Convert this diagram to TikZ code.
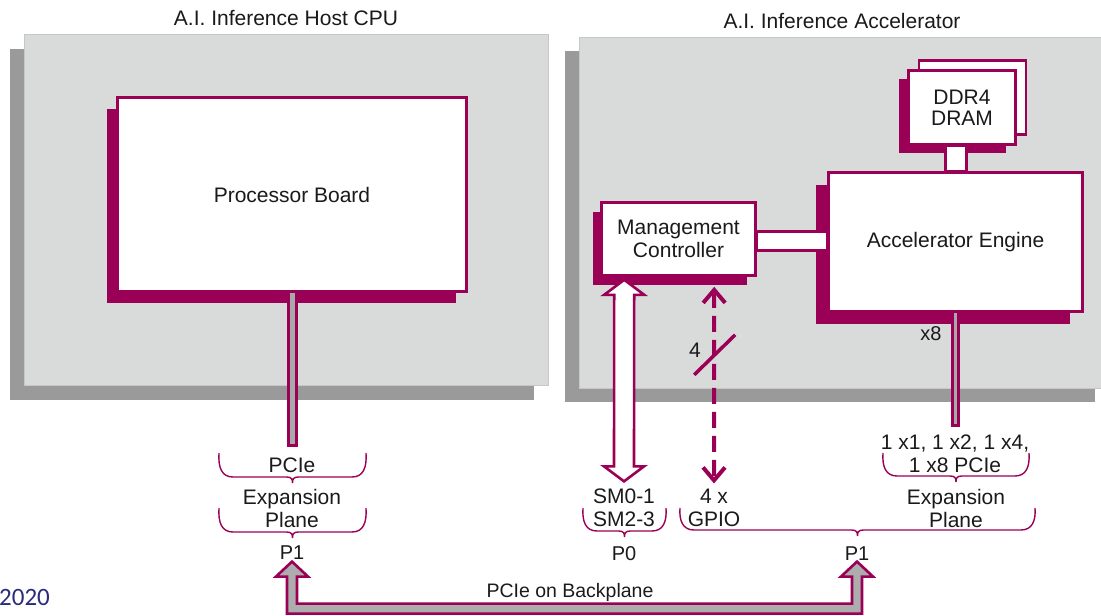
\documentclass[tikz,border=0pt]{standalone}
\usepackage{fontspec}
\setmainfont{Liberation Sans}
\newfontfamily\slidefont{Carlito}
\usetikzlibrary{arrows.meta, shadows, calc}
\definecolor{mMag}{HTML}{9B0057}
\definecolor{mPanel}{HTML}{D9DADA}
\definecolor{mShade}{HTML}{9A9A9A}
\definecolor{mLink}{HTML}{A9A9A9}
\definecolor{mBus}{HTML}{ADADAD}
\definecolor{mInk}{HTML}{1A1A1A}
\definecolor{mNavy}{HTML}{2B2B7B}

% curly brace under a group of labels: left x, right x, top y, bottom y
\newcommand\planebrace[4]{%
  \draw[brc] (#1,#3) .. controls (#1-1,#4-9) and (#1+3,#4) .. (#1+14,#4)
    -- ({(#1+#2)/2-6},#4) .. controls ({(#1+#2)/2-1},#4) and ({(#1+#2)/2},#4+2) .. ({(#1+#2)/2},#4+6)
    .. controls ({(#1+#2)/2},#4+2) and ({(#1+#2)/2+1},#4) .. ({(#1+#2)/2+6},#4)
    -- (#2-14,#4) .. controls (#2-3,#4) and (#2+1,#4-9) .. (#2,#3);}

\begin{document}
\begin{tikzpicture}[x=1pt, y=-1pt, font=\fontsize{21}{23}\selectfont, text=mInk,
  panel/.style={fill=mPanel, draw=mShade!55, line width=0.8pt, inner sep=0pt,
                minimum height=351,
                drop shadow={shadow xshift=-14pt, shadow yshift=-14pt, fill=mShade, opacity=1}},
  card/.style={fill=white, draw=mMag, line width=2.6pt, align=center, inner sep=0pt},
  box/.style 2 args={card,
                drop shadow={shadow xshift=#1, shadow yshift=#2, fill=mMag, opacity=1}},
  lbl/.style={inner sep=0pt, align=center},
  tiny/.style={font=\fontsize{20}{22}\selectfont},
  linkg/.style={fill=mLink, draw=mMag, line width=3pt},
  linkw/.style={fill=white, draw=mMag, line width=2.6pt},
  sigarrow/.style={fill=white, draw=mMag, line width=2.6pt, line join=miter},
  busarrow/.style={fill=mBus, draw=mMag, line width=2.6pt, line join=miter},
  gpioline/.style={draw=mMag, line width=4pt, dash pattern=on 16pt off 8pt,
                   <->, >={Straight Barb[length=13pt, width=22pt]}},
  brc/.style={draw=mMag, line width=1.4pt},
]
  \useasboundingbox (0,0) rectangle (1101,616);

  % cards
  \node[panel, minimum width=524] (host) at (286,210) {};
  \node[panel, minimum width=530] (acc) at (844,212.5) {};
  \node (tHost) at (286,18) {A.I. Inference Host CPU};
  \node (tAcc) at (842,21) {A.I. Inference Accelerator};

  % boards and chips
  \node[box={-11pt}{-11pt}, minimum width=349, minimum height=194] (pb) at (292,194.5) {Processor Board};
  \node[card, minimum width=107, minimum height=74] (ddrb) at (972.5,97.5) {};
  \node[box={-10pt}{-8pt}, minimum width=107, minimum height=74] (ddr) at (962,107.5) {DDR4\\[-2pt]DRAM};
  \node[box={-13pt}{-12pt}, minimum width=254, minimum height=139] (ae) at (955.5,242) {Accelerator Engine};
  \node[box={-9pt}{-9pt}, minimum width=154, minimum height=73] (mc) at (678.5,239) {Management\\Controller};

  % labels
  \node[lbl, tiny] (x8) at (931,334) {x8};
  \node[lbl] (four) at (695,350) {4};
  \node[lbl] (pcieL) at (292,465) {PCIe};
  \node[lbl] (expL) at (292,508.5) {Expansion\\Plane};
  \node[lbl, tiny] (p1L) at (292,553) {P1};
  \node[lbl] (sm) at (624,507.5) {SM0-1\\SM2-3};
  \node[lbl, tiny] (p0) at (624,554) {P0};
  \node[lbl] (gpio) at (714,507.5) {4 x\\GPIO};
  \node[lbl] (pcieR) at (955,454) {1 x1, 1 x2, 1 x4,\\1 x8 PCIe};
  \node[lbl] (expR) at (956,508.5) {Expansion\\Plane};
  \node[lbl, tiny] (p1R) at (857,554) {P1};
  \node[lbl, font=\fontsize{19.5}{22}\selectfont] (bus) at (570,592) {PCIe on Backplane};
  \node[lbl, anchor=west, font=\slidefont\fontsize{25}{28}\selectfont, text=mNavy] (yr) at (-1,597) {2020};

  % board links
  \draw[linkg] ($(pb.south)+(-4,-1)$) rectangle ($(pb.south |- pcieL.north)+(4,-12)$);
  \draw[linkg, line width=2.5pt] ($(ae.south)+(-3.2,-1)$) rectangle ($(ae.south |- pcieR.north)+(3.2,-9.5)$);
  \draw[linkw] ($(mc.east)+(0,-7.7)$) rectangle ($(ae.west |- mc.east)+(0,11.7)$);
  \draw[linkw] ($(ae.north)+(-10.2,0)$) rectangle ($(ae.north |- ddr.south)+(11.2,0)$);

  % SMBus and GPIO
  \coordinate (smTop) at ($(mc.south west)+(24,3)$);
  \coordinate (smBot) at ($(sm.north)+(0,-7)$);
  \draw[sigarrow] (smTop) -- ++(20,15) -- ++(-10,0) -- ($(smBot)+(10,-15)$) -- ++(10,0)
    -- (smBot) -- ++(-20,-15) -- ++(10,0) -- ($(smTop)+(-10,15)$) -- ++(-10,0) -- cycle;
  \coordinate (gpTop) at ($(mc.south west)+(114,10)$);
  \coordinate (gpBot) at ($(gpio.north)+(0,-5)$);
  \draw[gpioline] (gpTop) -- (gpBot);
  \draw[draw=mMag, line width=3.5pt] ($(gpTop)+(-20,88)$) -- ++(41,-40);

  % expansion plane braces
  \planebrace{219}{366}{453}{477}
  \planebrace{219}{366}{508}{532}
  \planebrace{583}{666}{508}{531}
  \planebrace{680}{1035}{508}{530}
  \planebrace{883}{1029}{453}{476}

  % PCIe on backplane
  \coordinate (tipL) at ($(p1L.south)+(0,1.5)$);
  \coordinate (tipR) at ($(p1R.south)+(0,0.5)$);
  \draw[busarrow] (tipL) -- ++(16,15) -- ++(-11,0) |- ($(tipR)+(-5,42)$) -- ++(0,-27) -- ++(-11,0)
    -- (tipR) -- ++(16,15) -- ++(-11,0) |- ($(tipL)+(-5,52)$) -- ++(0,-37) -- ++(-11,0) -- cycle;
\end{tikzpicture}
\end{document}
